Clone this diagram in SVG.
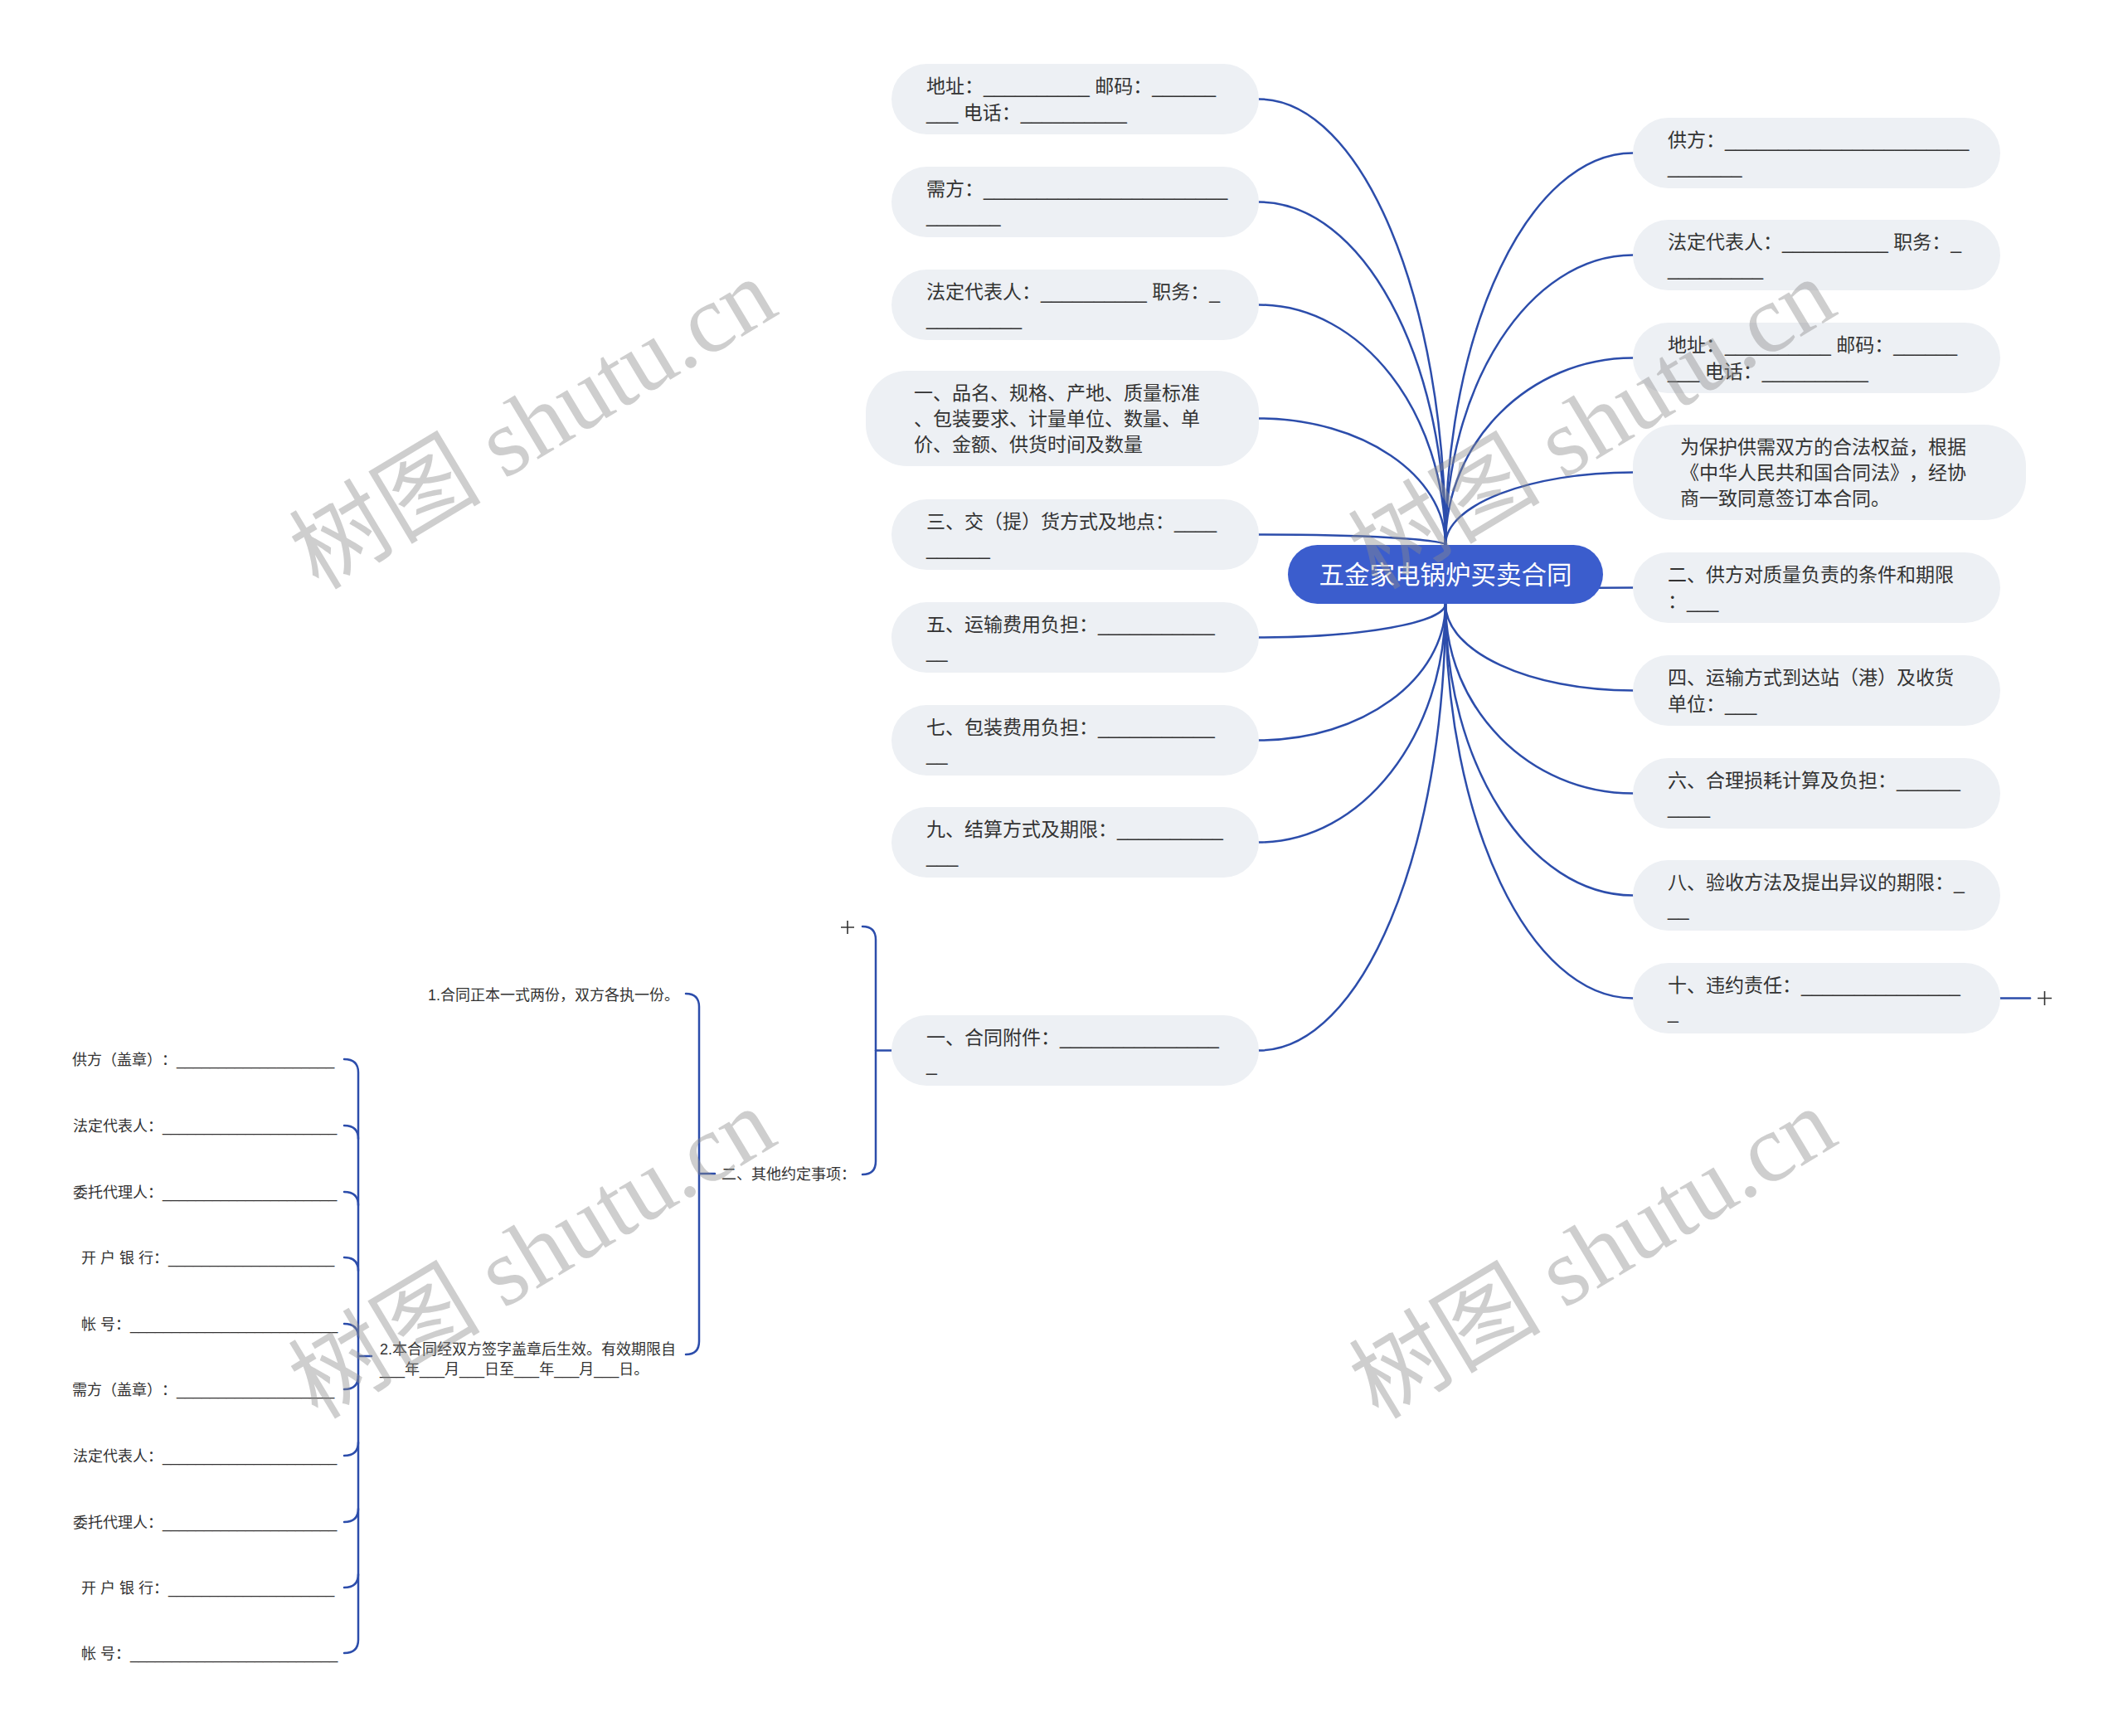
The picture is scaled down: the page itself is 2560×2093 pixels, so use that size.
<svg xmlns="http://www.w3.org/2000/svg" width="2560" height="2093" viewBox="0 0 2560 2093">
<style>
.bg{fill:#ffffff}
.node rect{fill:#edf0f4}
text{text-spacing-trim:space-all;font-feature-settings:"chws" 0,"halt" 0}
.t{font-family:"Liberation Sans","Noto Sans CJK SC",sans-serif;font-size:23px;fill:#333333}
.s{font-family:"Liberation Sans","Noto Sans CJK SC",sans-serif;font-size:18px;fill:#333333}
.root rect{fill:#3b5dcd}
.rt{font-family:"Liberation Sans","Noto Sans CJK SC",sans-serif;font-size:30.5px;fill:#ffffff;text-anchor:middle}
.conn path{fill:none;stroke:#2c4dab;stroke-width:2.5;stroke-linecap:round}
.plus{stroke:#333333;stroke-width:1.6;fill:none}
.wm{font-family:"Liberation Serif","Noto Sans CJK SC",serif;font-size:116px;fill:#8c8c8c;opacity:0.42;text-anchor:middle}
</style>
<rect class="bg" x="0" y="0" width="2560" height="2093"/>

<g id="connectors" class="conn">
  <path d="M1518,119.5 C1642.2,119.5 1743,360.3 1743,657"/>
  <path d="M1518,243.5 C1642.2,243.5 1743,428.7 1743,657"/>
  <path d="M1518,367.5 C1642.2,367.5 1743,497.2 1743,657"/>
  <path d="M1518,504.5 C1642.2,504.5 1743,572.8 1743,657"/>
  <path d="M1518,644.5 C1642.2,644.5 1743,650.1 1743,657"/>
  <path d="M1518,768.5 C1642.2,768.5 1743,750.4 1743,728"/>
  <path d="M1518,892.5 C1642.2,892.5 1743,818.8 1743,728"/>
  <path d="M1518,1015.5 C1642.2,1015.5 1743,886.7 1743,728"/>
  <path d="M1518,1266.5 C1642.2,1266.5 1743,1025.3 1743,728"/>
  <path d="M1969,184.5 C1844.2,184.5 1743,396.2 1743,657"/>
  <path d="M1969,307.5 C1844.2,307.5 1743,464.1 1743,657"/>
  <path d="M1969,431.5 C1844.2,431.5 1743,532.5 1743,657"/>
  <path d="M1969,569.5 C1844.2,569.5 1743,608.7 1743,657"/>
  <path d="M1969,708.5 C1844.2,708.5 1743,717.2 1743,728"/>
  <path d="M1969,832.5 C1844.2,832.5 1743,785.7 1743,728"/>
  <path d="M1969,956.5 C1844.2,956.5 1743,854.1 1743,728"/>
  <path d="M1969,1079.5 C1844.2,1079.5 1743,922 1743,728"/>
  <path d="M1969,1203.5 C1844.2,1203.5 1743,990.5 1743,728"/>
  <path d="M2412,1203.5 L2448,1203.5"/>
  <path d="M1040,1117 Q1056,1117 1056,1133 L1056,1400 Q1056,1416 1040,1416"/>
  <path d="M1056,1266.5 L1075,1266.5"/>
  <path d="M827,1198 Q843,1198 843,1214 L843,1617 Q843,1633 827,1633"/>
  <path d="M843,1415 L862,1415"/>
  <path d="M415,1277 Q432,1277 432,1293 L432,1977 Q432,1993 415,1993"/>
  <path d="M415,1357 Q432,1357 432,1373"/>
  <path d="M415,1437 Q432,1437 432,1453"/>
  <path d="M415,1516 Q432,1516 432,1532"/>
  <path d="M415,1596 Q432,1596 432,1612"/>
  <path d="M415,1675 Q432,1675 432,1659"/>
  <path d="M415,1755 Q432,1755 432,1739"/>
  <path d="M415,1835 Q432,1835 432,1819"/>
  <path d="M415,1914 Q432,1914 432,1898"/>
  <path d="M432,1635 L448,1635"/>
</g>

<g id="plus-icons" class="plus">
  <path d="M2457,1203.5 H2474 M2465.5,1195 V1212"/>
  <path d="M1014,1118 H1030 M1022,1110 V1126"/>
</g>

<g id="root" class="root">
  <rect x="1553" y="657" width="380" height="71" rx="35.5"/>
  <text class="rt" x="1743" y="704">五金家电锅炉买卖合同</text>
</g>

<g id="n-l1" class="node">
  <rect x="1075" y="77" width="443" height="85" rx="42.5"/>
  <text class="t"><tspan x="1117" y="112">地址：__________ 邮码：______</tspan><tspan x="1117" y="144">___ 电话：__________</tspan></text>
</g>
<g id="n-l2" class="node">
  <rect x="1075" y="201" width="443" height="85" rx="42.5"/>
  <text class="t"><tspan x="1117" y="236">需方：_______________________</tspan><tspan x="1117" y="268">_______</tspan></text>
</g>
<g id="n-l3" class="node">
  <rect x="1075" y="325" width="443" height="85" rx="42.5"/>
  <text class="t"><tspan x="1117" y="360">法定代表人：__________ 职务：_</tspan><tspan x="1117" y="392">_________</tspan></text>
</g>
<g id="n-l4" class="node">
  <rect x="1044" y="447" width="474" height="115" rx="50"/>
  <text class="t"><tspan x="1102" y="482">一、品名、规格、产地、质量标准</tspan><tspan x="1102" y="513">、包装要求、计量单位、数量、单</tspan><tspan x="1102" y="544">价、金额、供货时间及数量</tspan></text>
</g>
<g id="n-l5" class="node">
  <rect x="1075" y="602" width="443" height="85" rx="42.5"/>
  <text class="t"><tspan x="1117" y="637">三、交（提）货方式及地点：____</tspan><tspan x="1117" y="669">______</tspan></text>
</g>
<g id="n-l6" class="node">
  <rect x="1075" y="726" width="443" height="85" rx="42.5"/>
  <text class="t"><tspan x="1117" y="761">五、运输费用负担：___________</tspan><tspan x="1117" y="793">__</tspan></text>
</g>
<g id="n-l7" class="node">
  <rect x="1075" y="850" width="443" height="85" rx="42.5"/>
  <text class="t"><tspan x="1117" y="885">七、包装费用负担：___________</tspan><tspan x="1117" y="917">__</tspan></text>
</g>
<g id="n-l8" class="node">
  <rect x="1075" y="973" width="443" height="85" rx="42.5"/>
  <text class="t"><tspan x="1117" y="1008">九、结算方式及期限：__________</tspan><tspan x="1117" y="1040">___</tspan></text>
</g>
<g id="n-l9" class="node">
  <rect x="1075" y="1224" width="443" height="85" rx="42.5"/>
  <text class="t"><tspan x="1117" y="1259">一、合同附件：_______________</tspan><tspan x="1117" y="1291">_</tspan></text>
</g>

<g id="n-r1" class="node">
  <rect x="1969" y="142" width="443" height="85" rx="42.5"/>
  <text class="t"><tspan x="2011" y="177">供方：_______________________</tspan><tspan x="2011" y="209">_______</tspan></text>
</g>
<g id="n-r2" class="node">
  <rect x="1969" y="265" width="443" height="85" rx="42.5"/>
  <text class="t"><tspan x="2011" y="300">法定代表人：__________ 职务：_</tspan><tspan x="2011" y="332">_________</tspan></text>
</g>
<g id="n-r3" class="node">
  <rect x="1969" y="389" width="443" height="85" rx="42.5"/>
  <text class="t"><tspan x="2011" y="424">地址：__________ 邮码：______</tspan><tspan x="2011" y="456">___ 电话：__________</tspan></text>
</g>
<g id="n-r4" class="node">
  <rect x="1969" y="512" width="474" height="115" rx="50"/>
  <text class="t"><tspan x="2026" y="547">为保护供需双方的合法权益，根据</tspan><tspan x="2026" y="578">《中华人民共和国合同法》，经协</tspan><tspan x="2026" y="609">商一致同意签订本合同。</tspan></text>
</g>
<g id="n-r5" class="node">
  <rect x="1969" y="666" width="443" height="85" rx="42.5"/>
  <text class="t"><tspan x="2011" y="701">二、供方对质量负责的条件和期限</tspan><tspan x="2011" y="733">：___</tspan></text>
</g>
<g id="n-r6" class="node">
  <rect x="1969" y="790" width="443" height="85" rx="42.5"/>
  <text class="t"><tspan x="2011" y="825">四、运输方式到达站（港）及收货</tspan><tspan x="2011" y="857">单位：___</tspan></text>
</g>
<g id="n-r7" class="node">
  <rect x="1969" y="914" width="443" height="85" rx="42.5"/>
  <text class="t"><tspan x="2011" y="949">六、合理损耗计算及负担：______</tspan><tspan x="2011" y="981">____</tspan></text>
</g>
<g id="n-r8" class="node">
  <rect x="1969" y="1037" width="443" height="85" rx="42.5"/>
  <text class="t"><tspan x="2011" y="1072">八、验收方法及提出异议的期限：_</tspan><tspan x="2011" y="1104">__</tspan></text>
</g>
<g id="n-r9" class="node">
  <rect x="1969" y="1161" width="443" height="85" rx="42.5"/>
  <text class="t"><tspan x="2011" y="1196">十、违约责任：_______________</tspan><tspan x="2011" y="1228">_</tspan></text>
</g>

<g id="n-other">
  <text class="s" x="870" y="1422">二、其他约定事项：</text>
</g>
<g id="n-c1">
  <text class="s" x="516" y="1206">1.合同正本一式两份，双方各执一份。</text>
</g>
<g id="n-c2">
  <text class="s"><tspan x="458" y="1633">2.本合同经双方签字盖章后生效。有效期限自</tspan><tspan x="458" y="1657">___年___月___日至___年___月___日。</tspan></text>
</g>

<g id="n-s1"><text class="s" x="87" y="1283.5">供方（盖章）：___________________</text></g>
<g id="n-s2"><text class="s" x="88" y="1363.5">法定代表人：_____________________</text></g>
<g id="n-s3"><text class="s" x="88" y="1443.5">委托代理人：_____________________</text></g>
<g id="n-s4"><text class="s" x="98" y="1522.5">开 户 银 行：____________________</text></g>
<g id="n-s5"><text class="s" x="98" y="1602.5">帐 号：_________________________</text></g>
<g id="n-s6"><text class="s" x="87" y="1681.5">需方（盖章）：___________________</text></g>
<g id="n-s7"><text class="s" x="88" y="1761.5">法定代表人：_____________________</text></g>
<g id="n-s8"><text class="s" x="88" y="1841.5">委托代理人：_____________________</text></g>
<g id="n-s9"><text class="s" x="98" y="1920.5">开 户 银 行：____________________</text></g>
<g id="n-s10"><text class="s" x="98" y="1999.5">帐 号：_________________________</text></g>

<g id="watermarks">
  <text class="wm" x="645" y="550" transform="rotate(-31 645 515)">树图 shutu.cn</text>
  <text class="wm" x="1922" y="550" transform="rotate(-31 1922 515)">树图 shutu.cn</text>
  <text class="wm" x="644" y="1550" transform="rotate(-31 644 1515)">树图 shutu.cn</text>
  <text class="wm" x="1923" y="1550" transform="rotate(-31 1923 1515)">树图 shutu.cn</text>
</g>
</svg>
